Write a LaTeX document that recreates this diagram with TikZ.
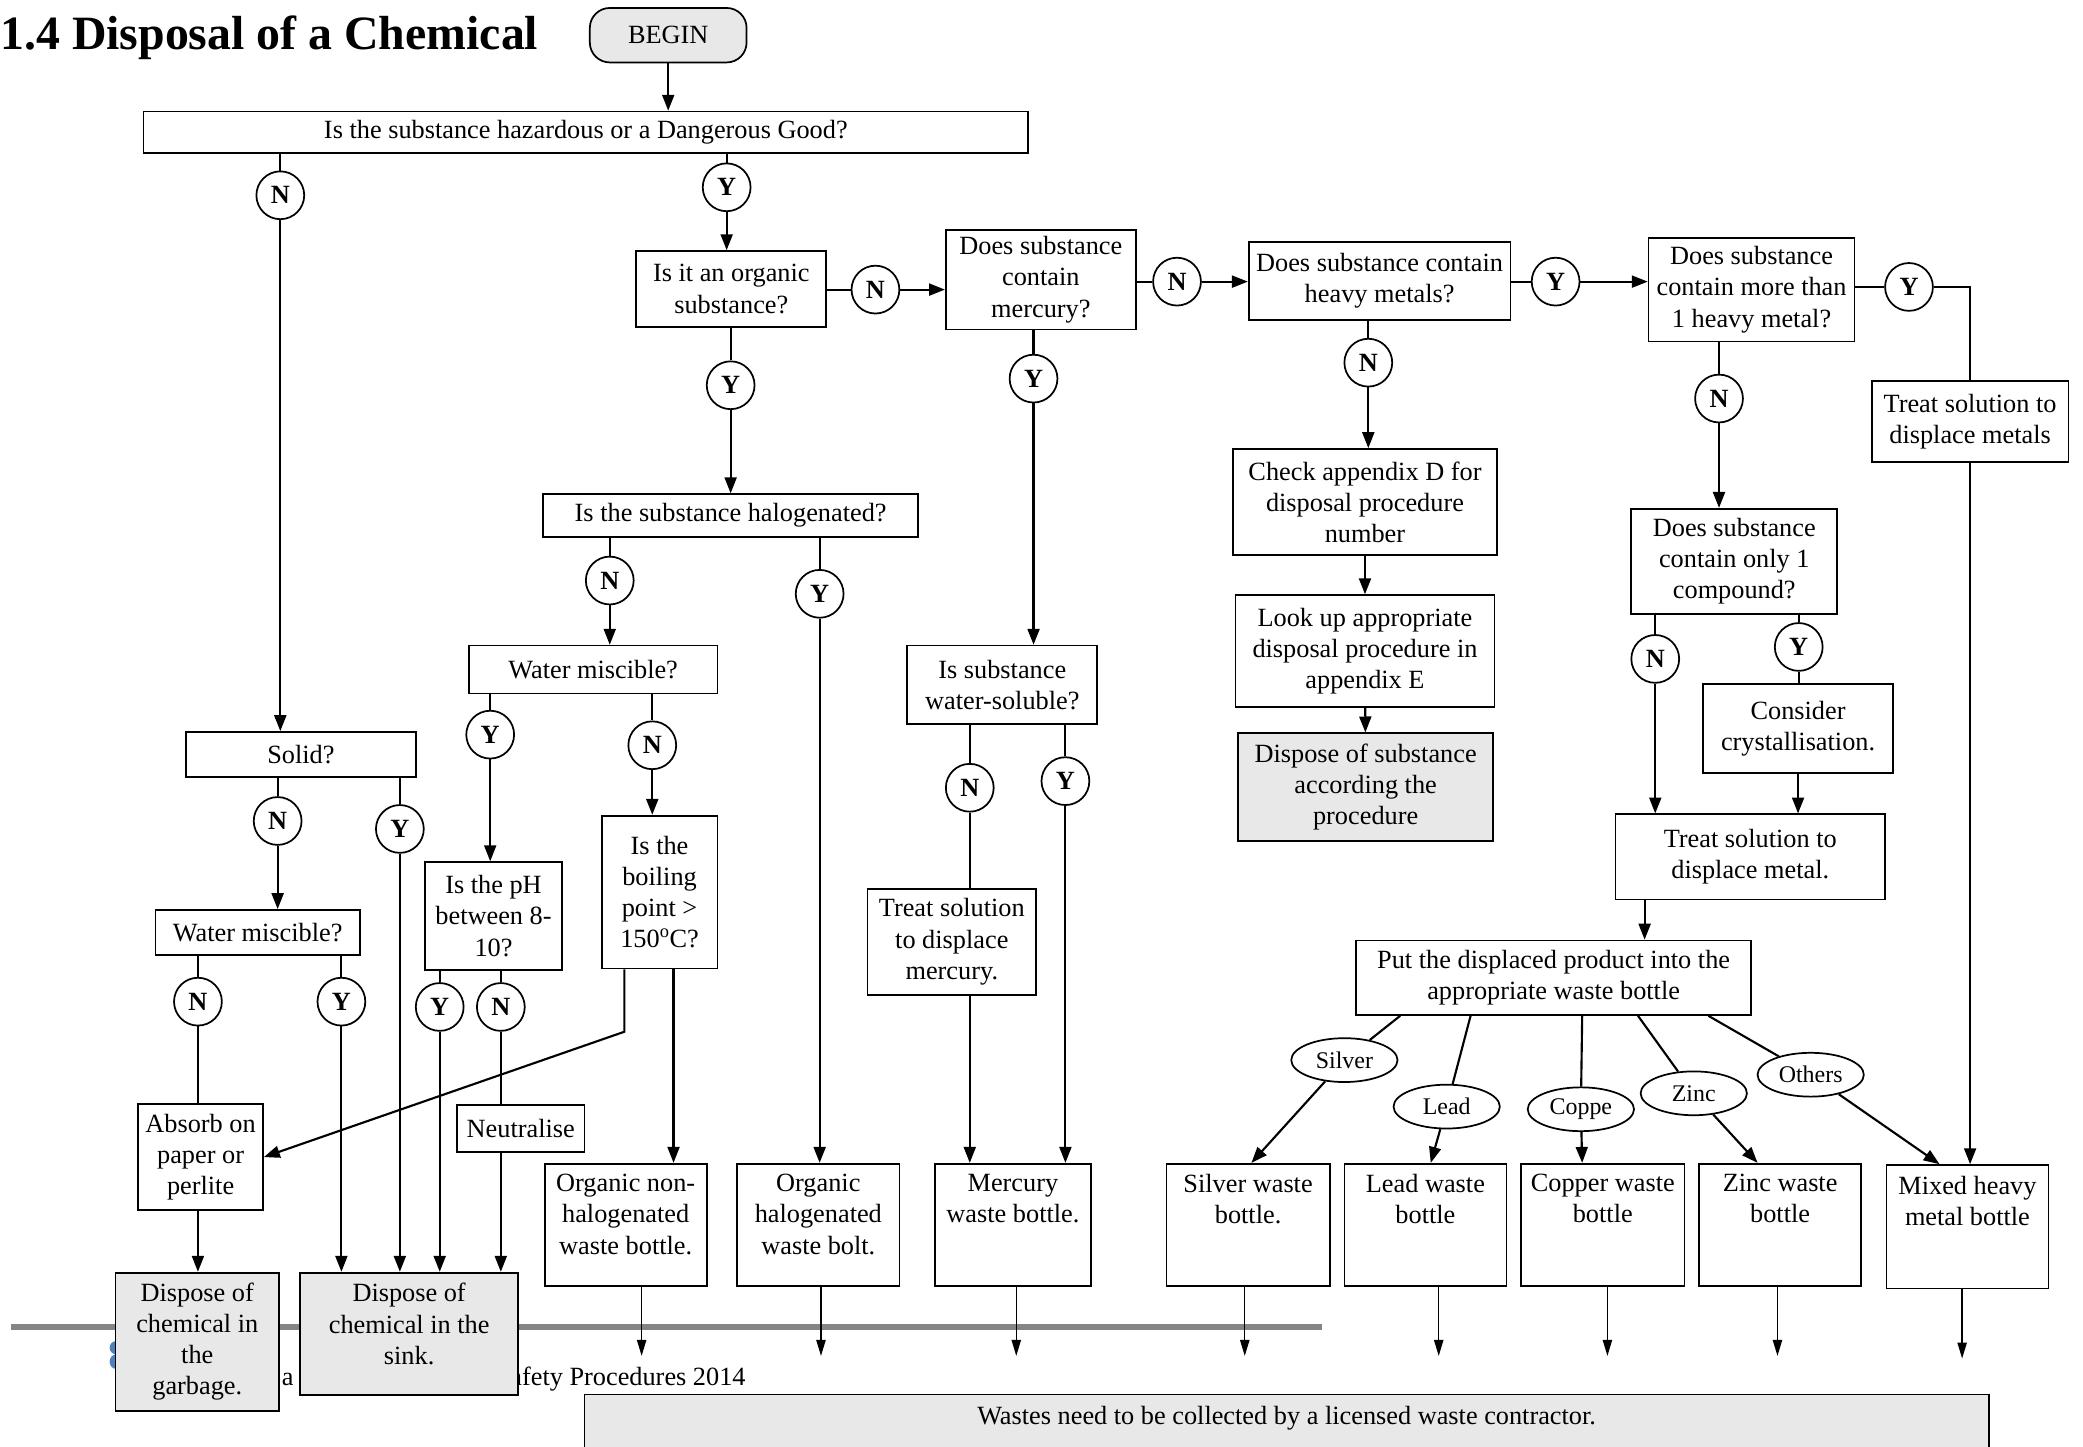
\documentclass[tikz,border=0pt]{standalone}
\usepackage{fontspec}
\setmainfont{Liberation Serif}
\usetikzlibrary{arrows.meta,shapes.geometric}
\definecolor{boxgray}{HTML}{E8E8E8}
\definecolor{rulegray}{HTML}{858585}
\definecolor{logoblue}{HTML}{4F81BD}
\newcommand{\toptext}[2][112pt]{\parbox[c][76pt][t]{#1}{\centering #2}}

\begin{document}
\begin{tikzpicture}[x=1pt, y=-1pt,
  every node/.style={font=\fontsize{19.8}{23.5}\selectfont},
  box/.style={rectangle, draw, line width=1.3pt, fill=white, align=center, inner sep=2pt},
  greybox/.style={box, fill=boxgray},
  bottle/.style={box, minimum width=122, minimum height=92, inner sep=0pt},
  yn/.style={circle, draw, line width=1.3pt, fill=white, minimum size=36, inner sep=0pt, font=\bfseries\fontsize{19.8}{22}\selectfont},
  metal/.style={ellipse, draw, line width=1.3pt, fill=white, minimum width=80, minimum height=33, inner sep=1pt, font=\fontsize{18}{20}\selectfont},
  conn/.style={line width=1.6pt},
  arr/.style={line width=1.6pt, -{Triangle[length=12pt,width=9pt]}},
  exitarr/.style={line width=1pt, -{Triangle[length=12pt,width=7pt]}}]

       \useasboundingbox (0,0) rectangle (1568,1089);

       % page footer behind the flow chart
       \draw[rulegray, line width=4pt] (8,999) -- (995,999);
       \fill[logoblue] (87.5,1014.5) ellipse (5pt and 5pt);
       \fill[logoblue] (87.5,1025) ellipse (5pt and 5.5pt);
       \node[anchor=base west, inner sep=0pt] (foota) at (212,1043) {a};
       \node[anchor=base west, inner sep=0pt] (footb) at (384,1043) {afety Procedures 2014};

       \node[anchor=base west, inner sep=0pt, font=\bfseries\fontsize{36}{40}\selectfont] (title) at (0,37) {1.4 Disposal of a Chemical};

       \node[greybox, rounded corners=15pt, minimum width=118, minimum height=41] (begin) at (503,26.5) {BEGIN};
       \node[box, minimum width=666, minimum height=31] (hazard) at (441,99.5) {Is the substance hazardous or a Dangerous Good?};
       \node[box, minimum width=143, minimum height=57] (organic) at (550.5,217.5) {Is it an organic\\substance?};
       \node[box, minimum width=143, minimum height=75] (mercury) at (783.5,210.5) {Does substance\\contain\\mercury?};
       \node[box, minimum width=197, minimum height=59] (heavy) at (1038.5,211.5) {Does substance contain\\heavy metals?};
       \node[box, minimum width=155, minimum height=78] (multi) at (1318.5,218) {Does substance\\contain more than\\1 heavy metal?};
       \node[box, minimum width=148, minimum height=61] (metals) at (1483,317.5) {Treat solution to\\displace metals};
       \node[box, minimum width=199, minimum height=80] (appd) at (1027.5,378) {Check appendix D for\\disposal procedure\\number};
       \node[box, minimum width=195, minimum height=84] (appe) at (1027.5,490) {Look up appropriate\\disposal procedure in\\appendix E};
       \node[greybox, minimum width=192, minimum height=81] (dispsub) at (1028,592.5) {Dispose of substance\\according the\\procedure};
       \node[box, minimum width=155, minimum height=79] (single) at (1305.5,422.5) {Does substance\\contain only 1\\compound?};
       \node[box, minimum width=143, minimum height=67] (crystal) at (1353.5,548.5) {Consider\\crystallisation.};
       \node[box, minimum width=203, minimum height=64] (treatmetal) at (1317.5,645) {Treat solution to\\displace metal.};
       \node[box, minimum width=297, minimum height=56] (put) at (1169.5,736) {Put the displaced product into the\\appropriate waste bottle};
       \node[box, minimum width=282, minimum height=32] (halogen) at (550,388) {Is the substance halogenated?};
       \node[box, minimum width=143, minimum height=59] (soluble) at (754.5,515.5) {Is substance\\water-soluble?};
       \node[box, minimum width=127, minimum height=80] (treatmerc) at (716.5,709) {Treat solution\\to displace\\mercury.};
       \node[box, minimum width=187, minimum height=36] (miscA) at (446.5,504) {Water miscible?};
       \node[box, minimum width=103, minimum height=81] (ph) at (371.5,689.5) {Is the pH\\between 8-\\10?};
       \node[box, minimum width=87, minimum height=115] (boil) at (496.5,671.5) {Is the\\boiling\\point >\\150\textsuperscript{o}C?};
       \node[box, minimum width=96, minimum height=35] (neutral) at (392,849.5) {Neutralise};
       \node[box, minimum width=173, minimum height=34] (solid) at (226.5,568) {Solid?};
       \node[box, minimum width=154, minimum height=34] (miscB) at (194,702) {Water miscible?};
       \node[box, minimum width=94, minimum height=80] (absorb) at (151,871) {Absorb on\\paper or\\perlite};
       \node[greybox, minimum width=123, minimum height=104] (garbage) at (148.5,1010) {Dispose of\\chemical in\\the\\garbage.};
       \node[bottle, fill=boxgray, minimum width=164] (sink) at (308,1004) {\toptext[150pt]{Dispose of\\chemical in the\\sink.}};

       \node[bottle] (nonhalo) at (471,922) {\toptext{Organic non-\\halogenated\\waste bottle.}};
       \node[bottle] (halo) at (616,922) {\toptext{Organic\\halogenated\\waste bolt.}};
       \node[bottle, minimum width=117] (mercbottle) at (762.5,922) {\toptext{Mercury\\waste bottle.}};
       \node[bottle, minimum width=123] (silverb) at (939.5,922) {\toptext{Silver waste\\bottle.}};
       \node[bottle] (leadb) at (1073,922) {\toptext{Lead waste\\bottle}};
       \node[bottle, minimum width=123] (copperb) at (1206.5,922) {\toptext{Copper waste\\bottle}};
       \node[bottle] (zincb) at (1340,922) {\toptext{Zinc waste\\bottle}};
       \node[bottle, minimum height=93] (mixedb) at (1481,923.5) {\toptext{Mixed heavy\\metal bottle}};

       \node[greybox, anchor=north, minimum width=1057, text height=18pt, text depth=30pt, inner ysep=5pt] (contractor) at (968.5,1049) {Wastes need to be collected by a licensed waste contractor.};

       \node[yn] (hazN) at (211,147) {N};
       \node[yn] (hazY) at (547,141) {Y};
       \node[yn] (orgN) at (659,218) {N};
       \node[yn] (mercN) at (886,212) {N};
       \node[yn] (heavyY) at (1171,212) {Y};
       \node[yn] (multiY) at (1437,216) {Y};
       \node[yn] (orgY) at (550,290) {Y};
       \node[yn] (mercY) at (778,285) {Y};
       \node[yn] (heavyN) at (1030,273) {N};
       \node[yn] (multiN) at (1294,300) {N};
       \node[yn] (halN) at (459,437) {N};
       \node[yn] (halY) at (617,447) {Y};
       \node[yn] (miscAY) at (369,553) {Y};
       \node[yn] (miscAN) at (491,561) {N};
       \node[yn] (singleN) at (1246,496) {N};
       \node[yn] (singleY) at (1354,487) {Y};
       \node[yn] (solN) at (730,593) {N};
       \node[yn] (solY) at (802,588) {Y};
       \node[yn] (solidN) at (209,618) {N};
       \node[yn] (solidY) at (301,624) {Y};
       \node[yn] (miscBN) at (149,754) {N};
       \node[yn] (miscBY) at (257,754) {Y};
       \node[yn] (phY) at (331,758) {Y};
       \node[yn] (phN) at (377,758) {N};

       \node[metal] (silver) at (1012,798) {Silver};
       \node[metal] (lead) at (1089,833) {Lead};
       \node[metal] (coppe) at (1190,835) {Coppe};
       \node[metal] (zinc) at (1275,823) {Zinc};
       \node[metal] (others) at (1363,809) {Others};

       \draw[arr] (begin) -- (hazard.north -| begin);
       \draw[conn] (hazard.south -| hazN) -- (hazN);
       \draw[arr] (hazN) -- (solid.north -| hazN);
       \draw[conn] (hazard.south -| hazY) -- (hazY);
       \draw[arr] (hazY) -- (organic.north -| hazY);

       \draw[conn] (organic.east |- orgN) -- (orgN);
       \draw[arr] (orgN) -- (mercury.west |- orgN);
       \draw[conn] (organic.south -| orgY) -- (orgY);
       \draw[arr] (orgY) -- (halogen.north -| orgY);
       \draw[conn] (mercury.east |- mercN) -- (mercN);
       \draw[arr] (mercN) -- (heavy.west |- mercN);
       \draw[conn] (mercury.south -| mercY) -- (mercY);
       \draw[arr] (mercY) -- (soluble.north -| mercY);
       \draw[conn] (heavy.east |- heavyY) -- (heavyY);
       \draw[arr] (heavyY) -- (multi.west |- heavyY);
       \draw[conn] (heavy.south -| heavyN) -- (heavyN);
       \draw[arr] (heavyN) -- (appd.north -| heavyN);
       \draw[arr] (appd) -- (appe);
       \draw[arr] (appe) -- (dispsub);

       \draw[conn] (multi.east |- multiY) -- (multiY);
       \draw[conn] (multiY) -| (metals.north);
       \draw[arr] (metals.south) -- (metals.south |- mixedb.north);
       \draw[conn] (multi.south -| multiN) -- (multiN);
       \draw[arr] (multiN) -- (single.north -| multiN);
       \draw[conn] (single.south -| singleN) -- (singleN);
       \draw[arr] (singleN) -- (treatmetal.north -| singleN);
       \draw[conn] (single.south -| singleY) -- (singleY);
       \draw[conn] (singleY) -- (crystal.north -| singleY);
       \draw[arr] (crystal.south) -- (crystal.south |- treatmetal.north);
       \draw[arr] ([xshift=-79.5]treatmetal.south) -- ([xshift=-79.5]treatmetal.south |- put.north);

       \foreach \m/\a/\b/\t in {silver/-115.5/2.5/silverb, lead/-62.5/4/leadb, coppe/21.5/-15.5/copperb, zinc/63.5/-17/zincb, others/116.5/-21/mixedb} {
         \draw[conn] ([xshift=\a]put.south) -- (\m);
         \draw[arr] (\m) -- ([xshift=\b]\t.north);
       }

       \draw[conn] (soluble.south -| solN) -- (solN);
       \draw[conn] (solN) -- (treatmerc.north -| solN);
       \draw[arr] (treatmerc.south -| solN) -- (mercbottle.north -| solN);
       \draw[conn] (soluble.south -| solY) -- (solY);
       \draw[arr] (solY) -- (mercbottle.north -| solY);

       \draw[conn] (halogen.south -| halN) -- (halN);
       \draw[arr] (halN) -- (miscA.north -| halN);
       \draw[conn] (halogen.south -| halY) -- (halY);
       \draw[arr] (halY) -- (halo.north -| halY);
       \draw[conn] (miscA.south -| miscAY) -- (miscAY);
       \draw[arr] (miscAY) -- (ph.north -| miscAY);
       \draw[conn] (miscA.south -| miscAN) -- (miscAN);
       \draw[arr] (miscAN) -- (boil.north -| miscAN);
       \draw[conn] (ph.south -| phY) -- (phY);
       \draw[arr] (phY) -- (sink.north -| phY);
       \draw[conn] (ph.south -| phN) -- (phN);
       \draw[conn] (phN) -- (neutral.north -| phN);
       \draw[arr] (neutral.south -| phN) -- (sink.north -| phN);
       \draw[arr] ([xshift=-26.5]boil.south) -- ++(0,47) -- (absorb.east);
       \draw[arr] ([xshift=10.5]boil.south) -- ([xshift=10.5]boil.south |- nonhalo.north);

       \draw[conn] (solid.south -| solidN) -- (solidN);
       \draw[arr] (solidN) -- (miscB.north -| solidN);
       \draw[conn] (solid.south -| solidY) -- (solidY);
       \draw[arr] (solidY) -- (sink.north -| solidY);
       \draw[conn] (miscB.south -| miscBN) -- (miscBN);
       \draw[conn] (miscBN) -- (absorb.north -| miscBN);
       \draw[conn] (miscB.south -| miscBY) -- (miscBY);
       \draw[arr] (miscBY) -- (sink.north -| miscBY);
       \draw[arr] (absorb.south -| miscBN) -- (garbage.north -| miscBN);

       \foreach \b/\dx in {nonhalo/12, halo/2, mercbottle/2.5, silverb/-2.5, leadb/10, copperb/3.5, zincb/-2, mixedb/-4}
         \draw[exitarr] ([xshift=\dx]\b.south) -- ++(0,52);
     \end{tikzpicture}
\end{document}
